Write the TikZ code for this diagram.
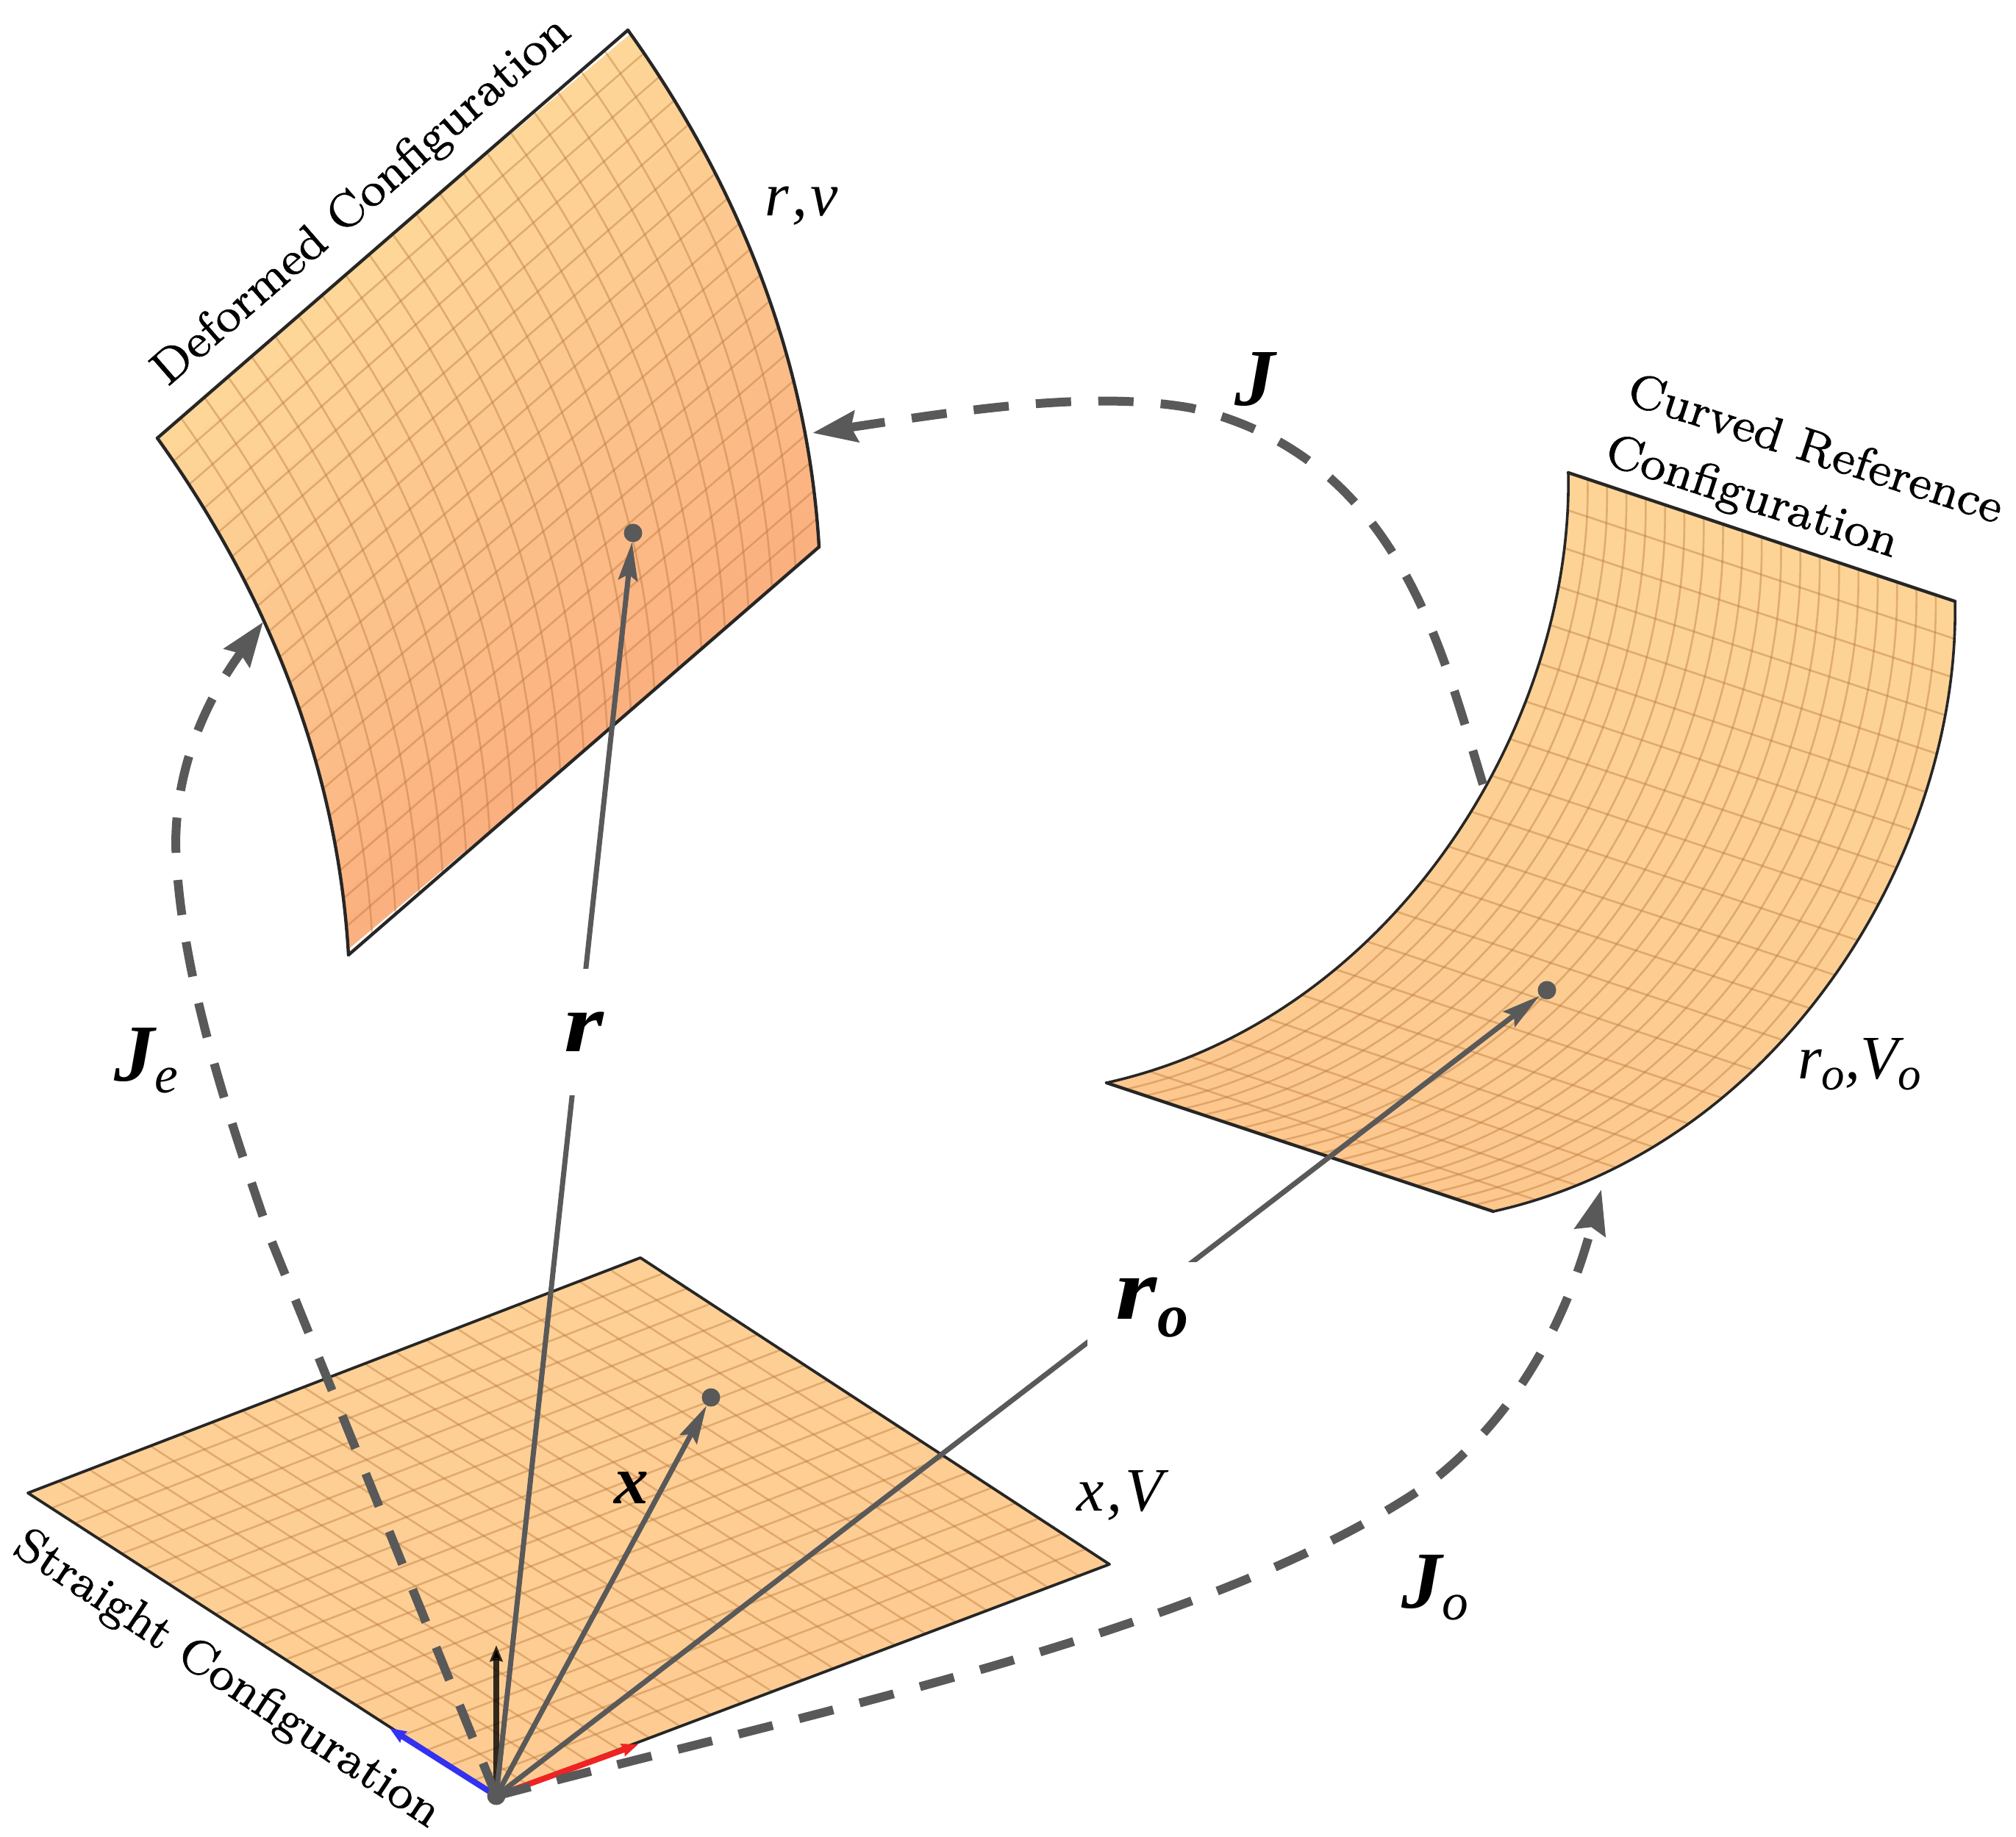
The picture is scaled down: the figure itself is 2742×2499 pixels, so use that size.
\documentclass[tikz,border=0pt]{standalone}
\usepackage{fontspec}
\usetikzlibrary{arrows.meta,calc}
\newfontfamily\labf{Liberation Serif}
\newfontfamily\cfgf[FakeBold=0.9]{lmroman8-regular.otf}
\definecolor{arrgray}{RGB}{89,89,89}
\definecolor{dtop}{RGB}{254,214,151}
\definecolor{dbot}{RGB}{251,176,128}
\definecolor{ctop}{RGB}{253,212,150}
\definecolor{cbot}{RGB}{253,199,142}
\definecolor{ptop}{RGB}{254,208,149}
\definecolor{pbot}{RGB}{254,204,146}
\definecolor{gridc}{RGB}{185,120,60}
\definecolor{bluear}{RGB}{50,50,240}
\definecolor{redar}{RGB}{240,35,35}
\tikzset{
  gridline/.style={draw=gridc,draw opacity=.42,line width=2.6pt},
  edgeline/.style={draw=black!85,line width=4.4pt,line cap=round},
  arr/.style={draw=arrgray,line width=7pt,-{Stealth[length=52pt,width=26pt,inset=8pt]}},
  dashedarr/.style={draw=arrgray,line width=12pt,dash pattern=on 48pt off 37pt,-{Stealth[length=60pt,width=42pt,inset=7pt]}},
  smallarr/.style={line width=8pt,-{Stealth[length=22pt,width=17pt,inset=2pt]}},
  dotmark/.style={circle,fill=arrgray,inner sep=0pt,minimum size=25pt},
  textlab/.style={scale=6.5,font=\cfgf,inner sep=0pt},
  mathlab/.style={scale=8.4,font=\labf\itshape,inner sep=0pt},
  boldlab/.style={scale=11,font=\labf\bfseries\itshape,inner sep=0pt},
  gapbox/.style={fill=white,inner sep=0pt,scale=12,font=\labf\bfseries\itshape},
}
\newcommand\defEdge{(214,596) .. controls (363,804) and (459,1042) .. (474,1299)}
\newcommand\curEdge{(2133,643) .. controls (2140,980) and (1900,1385) .. (1505,1473)}
\begin{document}
\begin{tikzpicture}[x=1pt,y=-1pt]
\useasboundingbox (0,0) rectangle (2742,2499);
% ---------- Straight plate
\coordinate (pL) at (38,2031);
\coordinate (pT) at (871,1711);
\coordinate (pR) at (1509,2128);
\coordinate (o) at (675,2443);
\foreach \i [evaluate=\i as \j using int(\i+1), evaluate=\i as \p using 100-100*\i/19] in {0,...,19}{
  \filldraw[fill=ptop!\p!pbot,draw=ptop!\p!pbot,line width=.8pt]
    ($(pL)!\i/20!(o)$) -- ($(pT)!\i/20!(pR)$) -- ($(pT)!\j/20!(pR)$) -- ($(pL)!\j/20!(o)$) -- cycle;
}
\foreach \i in {1,...,19}{
  \draw[gridline] ($(pL)!\i/20!(o)$) -- ($(pT)!\i/20!(pR)$);
  \draw[gridline] ($(pL)!\i/20!(pT)$) -- ($(o)!\i/20!(pR)$);
}
\draw[edgeline,line join=round,line width=3.8pt] (pL) -- (pT) -- (pR) -- (o) -- cycle;
% ---------- Deformed surface
\foreach \i in {0,...,20}{
  \pgfmathsetmacro\t{\i/20}
  \pgfmathsetmacro\dx{(1-\t)^3*214+3*(1-\t)^2*\t*363+3*(1-\t)*\t^2*459+\t^3*474}
  \pgfmathsetmacro\dy{(1-\t)^3*596+3*(1-\t)^2*\t*804+3*(1-\t)*\t^2*1042+\t^3*1299}
  \coordinate (d\i) at (\dx,\dy);
  \coordinate (f\i) at (\dx+640,\dy-555);
}
\begin{scope}
\clip \defEdge -- (1114,744) .. controls (1099,487) and (1003,249) .. (854,41) -- cycle;
\foreach \i [evaluate=\i as \j using int(\i+1), evaluate=\i as \p using 100-100*\i/19] in {0,...,19}{
  \filldraw[fill=dtop!\p!dbot,draw=dtop!\p!dbot,line width=.8pt]
    ($(d\i)+(-10,0)$) -- ($(f\i)+(10,0)$) -- ($(f\j)+(10,0)$) -- ($(d\j)+(-10,0)$) -- cycle;
}
\foreach \i in {1,...,19}{
  \draw[gridline] (d\i) -- (f\i);
  \draw[gridline,shift={(\i*32,\i*-27.75)}] \defEdge;
}
\end{scope}
\draw[edgeline] \defEdge;
\draw[edgeline,shift={(640,-555)}] \defEdge;
\draw[edgeline] (d0) -- (f0);
\draw[edgeline] (d20) -- (f20);
% ---------- Curved reference surface
\foreach \i in {0,...,20}{
  \pgfmathsetmacro\t{\i/20}
  \pgfmathsetmacro\dx{(1-\t)^3*2133+3*(1-\t)^2*\t*2140+3*(1-\t)*\t^2*1900+\t^3*1505}
  \pgfmathsetmacro\dy{(1-\t)^3*643+3*(1-\t)^2*\t*980+3*(1-\t)*\t^2*1385+\t^3*1473}
  \coordinate (c\i) at (\dx,\dy);
  \coordinate (e\i) at (\dx+526,\dy+175);
}
\begin{scope}
\clip \curEdge -- (2031,1648) .. controls (2426,1560) and (2666,1155) .. (2659,818) -- cycle;
\foreach \i [evaluate=\i as \j using int(\i+1), evaluate=\i as \p using 100-100*\i/19] in {0,...,19}{
  \filldraw[fill=ctop!\p!cbot,draw=ctop!\p!cbot,line width=.8pt]
    ($(c\i)+(-8,-3)$) -- ($(e\i)+(8,3)$) -- ($(e\j)+(8,3)$) -- ($(c\j)+(-8,-3)$) -- cycle;
}
\foreach \i in {1,...,19}{
  \draw[gridline] (c\i) -- (e\i);
  \draw[gridline,shift={(\i*26.3,\i*8.75)}] \curEdge;
}
\end{scope}
\draw[edgeline,line width=3.6pt] \curEdge;
\draw[edgeline,line width=3.6pt,shift={(526,175)}] \curEdge;
\draw[edgeline] (c0) -- (e0);
\draw[edgeline] (c20) -- (e20);
% ---------- Basis vectors
\coordinate (bluetip) at (530,2351);
\coordinate (redtip) at (868,2373);
\coordinate (blacktip) at (675,2238);
\draw[smallarr,draw=bluear] (o) -- (bluetip);
\draw[smallarr,draw=redar] (o) -- (redtip);
\draw[smallarr,draw=black,draw opacity=.8] (o) -- (blacktip);
% ---------- Points and position vectors
\node[dotmark] (dotx) at (967,1901) {};
\node[dotmark] (dotr) at (861,725) {};
\node[dotmark] (dotro) at (2104,1347) {};
\draw[arr] (o) -- (dotr);
\draw[arr] (o) -- (dotx);
\draw[arr] (o) -- (dotro);
% ---------- Dashed maps
\coordinate (jestart) at (o);
\coordinate (jtip) at (1105,589);
\coordinate (jstart) at (2017,1067);
\coordinate (jetip) at (358,846);
\coordinate (jotip) at (2178,1618);
\draw[dashedarr] (jestart) -- (368,1685) .. controls (315,1530) and (245,1330) .. (239,1150) .. controls (239,1050) and (275,960) .. (jetip);
\draw[dashedarr] (jstart) .. controls (1960,880) and (1900,620) .. (1620,555) .. controls (1480,530) and (1300,560) .. (jtip);
\draw[dashedarr] (o) .. controls (1100,2330) and (1650,2220) .. (1941,2020) .. controls (2060,1930) and (2130,1800) .. (jotip);
\node[dotmark] (doto) at (o) {};
% ---------- Labels
\node[gapbox,minimum width=100pt/12,minimum height=172pt/12] (rlab) at (794,1404) {\scalebox{1.15}[.95]{r}};
\node[gapbox,minimum width=152pt/12,minimum height=125pt/12] (rolab) at (1555,1779) {\hspace{2pt}\scalebox{1.2}[1]{r}\raisebox{-.2em}{\fontsize{7}{8}\selectfont o}};
\node[boldlab,scale=.85] (xlab) at (859,2024) {x};
\node[boldlab] (jlab) at (1707,516) {J};
\node[boldlab] (jelab) at (199,1443) {J\raisebox{-.14em}{\fontsize{6.5}{7}\selectfont\mdseries e}};
\node[boldlab] (jolab) at (1952,2160) {J\raisebox{-.14em}{\fontsize{6.5}{7}\selectfont\mdseries o}};
\node[mathlab] (rv) at (1090,280) {r\kern.5pt,\kern.5pt v};
\node[mathlab] (xv) at (1523,2034) {x\kern.5pt,\kern.5pt V};
\node[mathlab] (rovo) at (2529,1448) {r\raisebox{-.18em}{\fontsize{7.5}{8}\selectfont o},V\raisebox{-.18em}{\fontsize{7.5}{8}\selectfont o}};
\node[textlab,rotate=41] (deflab) at (493,275) {Deformed Configuration};
\node[textlab,rotate=-33.5] (strlab) at (308,2286) {Straight Configuration};
\node[textlab,rotate=-18] (curlab) at (2470,609) {Curved Reference};
\node[textlab,rotate=-18] (conflab) at (2382,679) {Configuration};
\end{tikzpicture}
\end{document}
